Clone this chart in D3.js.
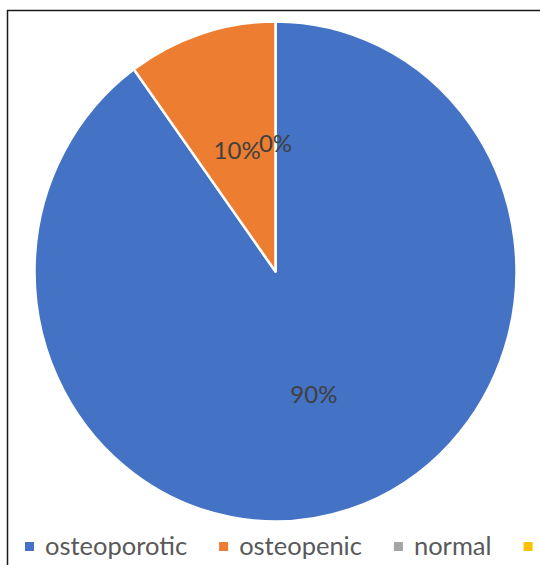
<!DOCTYPE html>
<html>
<head>
<meta charset="utf-8">
<script src="https://cdn.jsdelivr.net/npm/d3@7/dist/d3.min.js"></script>
<style>
  html, body { margin: 0; padding: 0; background: #fff; }
  svg { display: block; }
</style>
</head>
<body>
<svg id="chart" width="540" height="565"></svg>
<script>
// Bone density classification shares
const categories = ["osteoporotic", "osteopenic", "normal", ""];
const values = [90, 10, 0, 0];
const colors = ["#4472C4", "#ED7D31", "#A5A5A5", "#FFC000"];
const valueLabels = ["90%", "10%", "0%"];

const cx = 275.5, cy = 271.5;
const rx = 241, ry = 250;   // pie is slightly taller than wide
const labelFrac = 0.515;
const font = "Lato, 'Open Sans', sans-serif";

const svg = d3.select("#chart");

// chart frame
svg.append("rect")
  .attr("x", 7.5).attr("y", 10.5)
  .attr("width", 600).attr("height", 600)
  .attr("fill", "#fff")
  .attr("stroke", "#1a1a1a")
  .attr("stroke-width", 1.5);

const data = categories.map((c, i) => ({ name: c, value: values[i], color: colors[i], label: valueLabels[i] }));

const pie = d3.pie().sort(null).value(d => d.value);
const arcs = pie(data);

const arc = d3.arc().innerRadius(0).outerRadius(rx);
const labelArc = d3.arc().innerRadius(rx * labelFrac).outerRadius(rx * labelFrac);

const g = svg.append("g")
  .attr("transform", `translate(${cx},${cy}) scale(1,${ry / rx})`);

g.selectAll("path.slice")
  .data(arcs.filter(a => a.data.value > 0))
  .join("path")
  .attr("class", "slice")
  .attr("d", arc)
  .attr("fill", d => d.data.color)
  .attr("stroke", "#fff")
  .attr("stroke-width", 2.5)
  .attr("stroke-linejoin", "round");

// value labels
svg.append("g").selectAll("text")
  .data(arcs.filter(a => a.data.label))
  .join("text")
  .attr("x", d => cx + labelArc.centroid(d)[0])
  .attr("y", d => cy + labelArc.centroid(d)[1] * ry / rx)
  .attr("text-anchor", "middle")
  .attr("dominant-baseline", "central")
  .attr("font-family", font)
  .attr("font-size", 24)
  .attr("fill", "#404040")
  .text(d => d.data.label);

// legend: swatch, name, then next entry
const legend = svg.append("g");
let lx = 25;
data.forEach(d => {
  legend.append("rect")
    .attr("x", lx).attr("y", 542)
    .attr("width", 9).attr("height", 9)
    .attr("fill", d.color);
  let end = lx + 9;
  if (d.name) {
    const t = legend.append("text")
      .attr("x", lx + 20).attr("y", 555)
      .attr("font-family", font)
      .attr("font-size", 25.5)
      .attr("fill", "#595959")
      .text(d.name);
    end = lx + 20 + t.node().getComputedTextLength();
  }
  lx = end + 32;
});
</script>
</body>
</html>
